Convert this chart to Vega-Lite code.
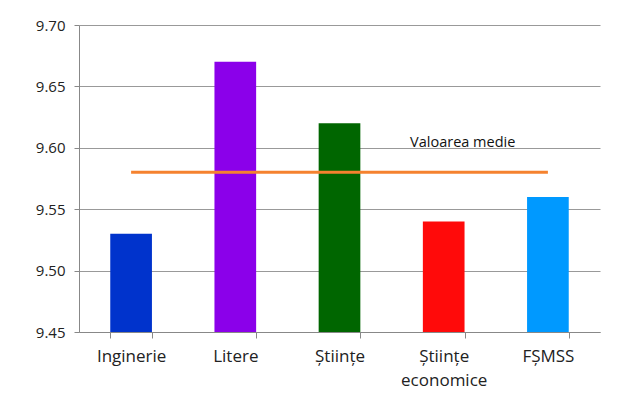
{
  "$schema": "https://vega.github.io/schema/vega-lite/v6.json",
  "width": 521,
  "height": 307,
  "autosize": "none",
  "padding": {"left": 79, "top": 25, "right": 34, "bottom": 74},
  "background": "white",
  "config": {"view": {"stroke": null}, "font": "Open Sans"},
  "datasets": {
    "bars": [
      {"facultate": "Inginerie", "medie": 9.53, "culoare": "#0033CC"},
      {"facultate": "Litere", "medie": 9.67, "culoare": "#8B00EA"},
      {"facultate": "Științe", "medie": 9.62, "culoare": "#006600"},
      {"facultate": "Științe economice", "medie": 9.54, "culoare": "#FF0A0A"},
      {"facultate": "FȘMSS", "medie": 9.56, "culoare": "#0099FF"}
    ],
    "avg": [
      {"start": "Inginerie", "end": "FȘMSS", "valoare": 9.58, "eticheta": "Valoarea medie", "pozitie": "Științe economice", "y_text": 9.6}
    ]
  },
  "layer": [
    {
      "data": {"name": "bars"},
      "mark": {"type": "bar", "clip": true},
      "encoding": {
        "x": {
          "field": "facultate",
          "type": "nominal",
          "sort": null,
          "scale": {"paddingInner": 0.6, "paddingOuter": 0.3},
          "axis": {
            "title": null,
            "labelAngle": 0,
            "labelExpr": "split(datum.label, ' ')",
            "labelFontSize": 17,
            "labelColor": "#222222",
            "labelPadding": 10,
            "labelLineHeight": 24,
            "domainColor": "#888888",
            "tickColor": "#888888",
            "tickBand": "extent",
            "tickSize": 6,
            "grid": false
          }
        },
        "y": {
          "field": "medie",
          "type": "quantitative",
          "scale": {"domain": [9.45, 9.7], "zero": false, "nice": false},
          "axis": {
            "title": null,
            "values": [9.45, 9.5, 9.55, 9.6, 9.65, 9.7],
            "format": ".2f",
            "labelFontSize": 15,
            "labelColor": "#222222",
            "labelPadding": 9,
            "domainColor": "#888888",
            "tickColor": "#888888",
            "tickSize": 5,
            "gridColor": "#999999",
            "gridOpacity": 1
          }
        },
        "color": {"field": "culoare", "type": "nominal", "scale": null, "legend": null}
      }
    },
    {
      "data": {"name": "avg"},
      "mark": {"type": "rule", "color": "#F5822F", "strokeWidth": 3},
      "encoding": {
        "x": {"field": "start", "type": "nominal", "sort": null},
        "x2": {"field": "end"},
        "y": {"field": "valoare", "type": "quantitative"}
      }
    },
    {
      "data": {"name": "avg"},
      "mark": {"type": "text", "fontSize": 14.5, "color": "#111111", "baseline": "alphabetic", "align": "center", "dx": 19, "dy": -1},
      "encoding": {
        "x": {"field": "pozitie", "type": "nominal", "sort": null},
        "y": {"field": "y_text", "type": "quantitative"},
        "text": {"field": "eticheta"}
      }
    }
  ]
}
